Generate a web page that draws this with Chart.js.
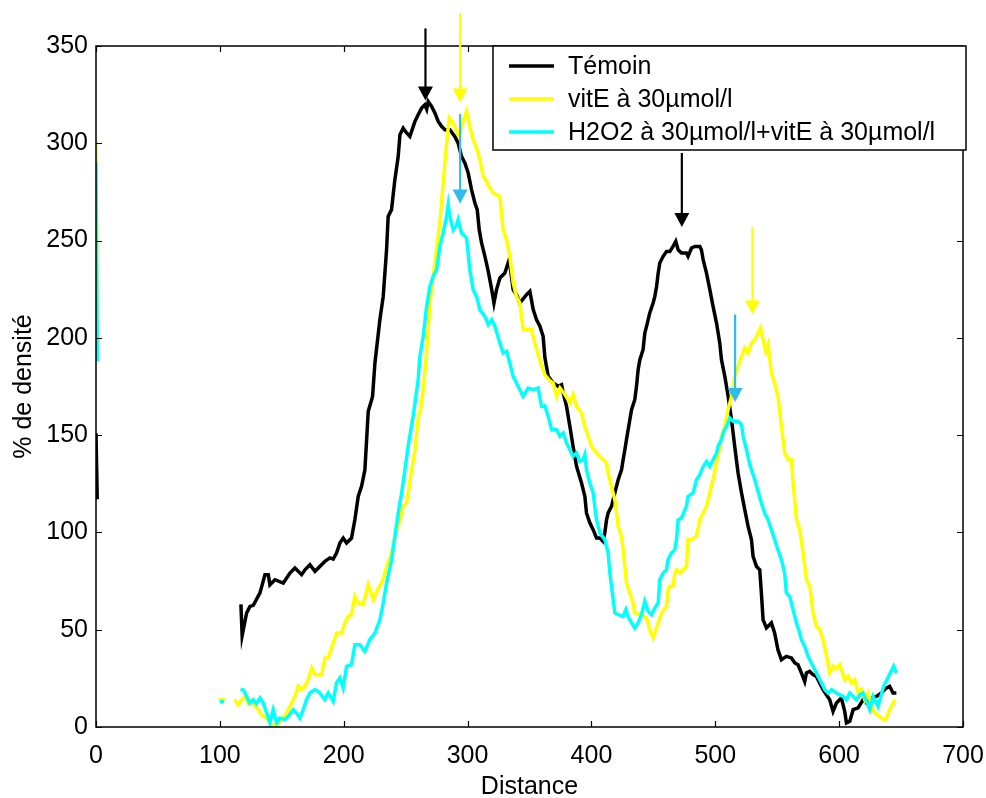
<!DOCTYPE html>
<html>
<head>
<meta charset="utf-8">
<script src="https://cdn.jsdelivr.net/npm/chart.js@4/dist/chart.umd.min.js"></script>
<style>
  html, body { margin: 0; padding: 0; background: #fff; }
  #plot { display: block; }
</style>
</head>
<body>
<canvas id="plot" width="986" height="798"></canvas>
<script>
// Densitometric profiles: [distance, % density]; a null density breaks the trace.
const temoin = [
  [0,151],[1,117],[50,null],
  [117,63],[118,47],[121.6,58.6],[124.3,62],[127,62.5],[132.4,68.9],[136.4,78.3],[139.1,78.3],[140.4,73.1],[144.5,75.7],[151.2,74],[156.6,79.1],[160.6,81.7],[166,78.3],[168.7,80.8],[172.7,83.4],[176.8,80],[184.8,85.1],[188.9,86.9],[191.5,86.3],[194.2,89.4],[196.9,94.6],[199.6,97.1],[202.3,94.6],[206.3,97.1],[209,106.5],[211.7,118.5],[214.4,123.7],[217.1,132.2],[219.8,162.2],[223.3,169.9],[225.2,187.1],[229.2,209.3],[231.9,221.3],[234.6,245.3],[235.9,262.4],[238.6,265.9],[241.3,281.3],[244,293.3],[245.4,304.4],[248,307.8],[250.8,305.3],[253.4,303.5],[254.8,306.1],[257.5,311.2],[260.1,314.7],[262.9,318.1],[265.5,319.8],[267,317.5],[268.2,321.5],[270.9,319],[273.6,315.6],[276.3,311.2],[279,308.7],[281.7,307],[285.7,307],[289.7,303.5],[292.4,300.1],[295.1,293.3],[297.8,289.9],[300.5,284.7],[303.2,276.2],[305.9,269.3],[307.8,265.9],[309.4,255.6],[311.3,248.8],[314,241.9],[316.7,234.2],[319.5,224.8],[321.3,217.9],[323.4,224.8],[326.1,230.8],[330.1,233.3],[333.6,240.2],[336.8,224.8],[339.5,222.2],[342.2,217.9],[347.6,222.2],[350.3,223.9],[353,214.5],[355.7,209.3],[358.4,206],[361,200.8],[362.4,190],[365.1,180.2],[369.1,176.8],[373.1,175.1],[375.9,175.9],[377.2,171.7],[379.9,164.8],[382.6,154.5],[385.2,144.2],[388,133.9],[392,125.4],[394.7,118.5],[396,110],[398.7,104.9],[401.4,101.4],[404.1,97.1],[406.8,97.1],[409.4,95.4],[410.8,99.7],[412.2,106.5],[413.5,110],[416.2,113.4],[418.9,120.3],[421.6,127.1],[424.3,132.2],[425.6,137.4],[427,142.5],[428.3,147.7],[431,157.9],[432.4,163.1],[435,168.2],[436.4,175.1],[437.7,183.6],[439.1,188.8],[441.7,193.9],[443.1,202.5],[444.5,205.9],[447.1,212.8],[449.8,217.9],[451.2,221.3],[452.6,226.4],[453.9,233.3],[455.2,238.5],[457.9,241.9],[460.6,244.4],[463.3,244.4],[465.9,247],[468.1,249.6],[470,245.3],[472.7,243.6],[476.7,243.6],[478,241.9],[480.8,246.2],[483.5,247],[487.5,247],[488.8,245.3],[490.2,240.2],[492.9,233.3],[495.6,224.8],[498.2,216.2],[501,207.6],[503.6,197.4],[505,188.8],[507.7,180.2],[510.4,169.9],[513.1,157.9],[515.7,144.2],[518.4,130.5],[521.2,120.3],[523.8,111.7],[526.5,103.1],[529.2,96.3],[530.5,87.7],[533.3,82.5],[535.9,80.8],[537.2,68.9],[538.6,55.1],[541.3,50.9],[545.3,53.5],[547.9,48.3],[550.6,39.7],[553.4,34.6],[557.4,36.3],[561.5,35.5],[564.2,32.9],[566.8,32],[569.5,27.8],[572.2,23.4],[573.6,27.8],[576.2,28.6],[578.9,26.9],[581.6,26],[587,19.2],[592.4,14],[595.1,8],[597.8,12.3],[601.8,14.9],[604.5,8],[605.9,2.1],[608.6,2.9],[611.3,8.9],[615.3,9.8],[619.3,14],[622,12.3],[626,14.9],[630.1,15.7],[634.1,17.5],[638.1,20],[640.8,20.9],[643.5,17.5],[646.2,17.5]
];

const vitE = [
  [0,301],[1,195],[50,null],
  [99,14],[104,14],[106,null],
  [112,14],[114.9,11.5],[117.6,14],[120.3,15.7],[123,12],[125.7,14],[128.4,10.6],[131.1,8.9],[134,6],[137.8,4.6],[141.8,1.2],[145.9,1.2],[149.9,3.8],[153.9,7.2],[156.6,10.6],[160.6,15.7],[163.3,20.9],[166,19.2],[168.7,20.9],[171.3,24.3],[174.1,30.3],[176.8,26.9],[182.2,26.9],[184.8,35.5],[187.5,35.5],[191.5,43.2],[194.2,48.3],[198.3,48.3],[200.9,53.5],[203.6,56.8],[206.3,57.7],[209,67.1],[211.7,63.7],[215.7,62.9],[219.8,73.1],[223.9,65.4],[226.6,69.7],[230.6,74],[233.3,79.1],[236,85.1],[238.7,89.4],[241.3,98],[245.4,106.5],[248,113.4],[250.8,115.1],[252,120.3],[254.8,132.2],[257.5,142],[260,158],[262.5,165],[264.2,173.4],[266.9,192.2],[269.6,217.9],[272.2,231.6],[275,245.3],[277.6,259],[280.3,279.6],[283.1,300.1],[285.2,313],[288.4,310.4],[291.2,306.1],[293,304],[296.4,311.2],[299.2,316.4],[301.8,308.7],[304.5,301.8],[307.3,297.6],[309.9,291.6],[312.6,283],[315.3,280.4],[318,277],[320.7,274.5],[326.1,272.7],[328.7,255.6],[331.5,250.4],[334.1,241.9],[336.8,228.2],[339.5,221.3],[342.2,217.9],[344.9,204.2],[351.6,204.2],[354.3,197.4],[358.4,188],[362.4,181],[366.4,178],[369.1,176.8],[371.9,169.9],[374.6,174.2],[378.7,170.8],[382.6,166.5],[385.2,170.8],[388,164.8],[392,161.4],[394.7,154.5],[397.4,149.4],[400.1,144.2],[404.1,140.8],[409.4,137.4],[412.2,135.7],[413.5,130.5],[416.2,123.7],[418.9,116.8],[420.3,110],[421.6,103.1],[424.3,98],[425.6,91.1],[427,82.5],[428.3,74],[431,68.9],[433.7,63.7],[435,58.6],[440.4,57.7],[444.5,56],[447.1,50],[449.8,45.7],[451.2,48.3],[453.9,53.5],[456.6,58.6],[460.6,62],[461.9,70.6],[463.3,72.3],[466,72.3],[467.3,79.1],[468.7,80.8],[471.4,79.1],[474,80.8],[476.7,82.5],[478,96.3],[480.8,96.3],[484.8,98],[487.5,106.5],[490.2,110],[492.9,113.4],[495.6,120.3],[498.2,127.1],[501,135.7],[503.6,144.2],[505,149.4],[507.7,154.5],[510.4,163.1],[513.1,169.9],[515.7,180.2],[518.4,185.3],[521.2,190.5],[523.8,194.8],[526.5,192.2],[529.2,197.4],[531.9,199.1],[534.6,202.5],[536.5,205.1],[538.6,199.1],[540.8,193.1],[542.6,196.5],[545.3,181.9],[547.9,176.8],[550.6,169.9],[553.4,154.5],[556,140.8],[558.8,137.4],[561.5,137.4],[562.8,125.4],[565.6,106.5],[568.2,101.4],[570.9,89.4],[573.6,75.7],[576.3,72.3],[578.9,58.6],[581.7,51.7],[584.3,50],[587,44.9],[590,36],[592.4,27.8],[595.1,31.2],[597.5,30],[600.5,32],[604.5,24.3],[607.2,26],[609.9,22.6],[612.6,24.3],[615.3,17.5],[618,19.2],[620.7,14],[623.4,17.5],[626.1,10.6],[628.8,7.2],[632.8,5.4],[635.5,3.8],[638.1,4.1],[639.6,7.2],[642.3,10.6],[645,14]
];

const h2o2VitE = [
  [0,290],[1,188],[50,null],
  [100,13],[103.5,13],[110,null],
  [116.8,19.5],[119,19],[121.6,15.7],[124.3,12.3],[127,14],[129.5,12],[132.4,14.9],[135.1,12.3],[137.8,7.2],[140.4,2.1],[143.1,8.9],[145.9,2.1],[148.5,4.6],[152.5,3.8],[155.2,5.4],[159.3,8.9],[162,7],[164.6,4.6],[167.3,8.9],[170,14],[172.7,17.5],[176.8,19.2],[180,18],[184.8,14],[187.5,17.5],[191.5,13.2],[194.2,22.6],[196.9,25.2],[199.6,20],[202.3,31.2],[206.3,32],[209,42.3],[213,42.3],[217.1,38.9],[221.1,44.9],[225.2,48.3],[229.2,55.1],[231.9,63.7],[234.6,74],[238.7,86],[241.3,98],[244,110],[246.7,120],[249.4,132],[252,144.2],[256.1,160],[260.1,178.5],[261.5,190.5],[264.2,200.8],[266.9,216.2],[269.6,226.4],[272.2,231.6],[275,235],[277.6,247],[280.3,253.9],[283.1,262.4],[284.4,268.4],[285.7,262.4],[288.4,255.6],[291.2,258.2],[292.4,260.7],[295.1,253.9],[299.2,251.3],[301.8,235],[304.5,224.8],[307.3,221.3],[309.9,214.5],[314,211],[316.7,206.8],[319.5,209.3],[322.1,205.9],[326.1,197.4],[328.7,192.2],[331.5,193.1],[334.1,187.1],[336.8,180.2],[340.8,175.1],[344.9,169.9],[348.9,174.2],[353,173.4],[357,174.2],[359.7,164.8],[362.4,165],[365.1,159.6],[367.9,152.8],[371.9,152.8],[374.6,149.4],[377.2,151.1],[379.9,146],[382.6,142.5],[385.2,139.1],[388,140.8],[390.6,136.5],[393.3,137.4],[394.7,140],[396,132.2],[398.7,125.4],[401.4,120.3],[402.7,113.4],[404.1,106.5],[406.8,99.7],[410.8,96.3],[413.5,89.4],[414.9,79.1],[416.2,72.3],[418.9,58.6],[421.6,57.7],[425.6,56.8],[427.8,60.3],[429.6,56.8],[432.4,53.5],[435,50.9],[437.7,53.5],[440.4,57.7],[443.1,64.6],[445.8,59.4],[448.5,57.7],[451.2,61.2],[453.9,63.7],[455.2,75.7],[457.9,79.1],[460.6,80.8],[461.9,86],[464.6,89.4],[467.3,91.1],[468.7,96.3],[470,106.5],[472.7,107.4],[476.7,113.4],[478,118.5],[482.1,120.3],[484.8,127.1],[487.5,129.7],[490.2,133.9],[492.9,136.5],[495.6,133.9],[498.2,137.4],[501,140.8],[502.2,144.2],[505,147.7],[506.3,151.1],[509.1,154.5],[511.7,158.8],[514.4,157.1],[518.4,157.1],[521.2,155.4],[522.5,149.4],[525.2,142.5],[527.8,135],[531.9,127.1],[535,120],[537.2,115.1],[539.9,110],[542.6,106.5],[545.3,101.4],[547.9,96.3],[550.6,91.1],[553.4,86],[556,79.1],[557.4,68.9],[560.1,67.1],[562.8,60.3],[565.5,53.5],[568.2,48.3],[569.5,44.9],[572.2,41.4],[574.9,36.3],[577.6,32.9],[580.3,29.4],[583,26],[585.7,22.6],[588.4,19.2],[591.1,17.5],[593.9,19.2],[597.8,17.5],[603.2,15.7],[605.9,14],[608.6,17.5],[613.9,14],[616.8,16.6],[619.3,17.5],[624.7,8.9],[627.4,15.7],[631.4,10.6],[635.9,20.9],[638.6,24.3],[641.3,27.8],[644,31.2],[646.2,27.8]
];

const seriesLabels = ['Témoin', 'vitE à 30µmol/l', 'H2O2 à 30µmol/l+vitE à 30µmol/l'];
const distanceTicks = [0, 100, 200, 300, 400, 500, 600, 700];
const densityTicks = [0, 50, 100, 150, 200, 250, 300, 350];

// Peak markers (distance, arrow start and tip in % density)
const peakDist = [266, 294, 294, 473, 530, 516];
const peakFrom = [359, 367, 315, 295, 257, 212];
const peakTo   = [322, 321, 269, 257, 212, 167];
const peakColours = ['#000000', '#ffff00', '#2ebcf0', '#000000', '#ffff00', '#2ebcf0'];

const FONT = "'Liberation Sans', Arial, Helvetica, sans-serif";
const lineColours = ['#000000', '#ffff00', '#00ffff'];

const toPoints = arr => arr.map(([x, y]) => ({x, y}));

const decorations = {
  id: 'decorations',
  afterDatasetsDraw(chart) {
    const {ctx, chartArea: a, scales: {x, y}} = chart;
    ctx.save();

    // axes box
    ctx.strokeStyle = '#000';
    ctx.lineWidth = 1.5;
    ctx.strokeRect(a.left, a.top, a.right - a.left, a.bottom - a.top);

    // inward tick marks on all four sides
    ctx.lineWidth = 1.2;
    const tl = 6;
    ctx.beginPath();
    distanceTicks.forEach(v => {
      const px = Math.round(x.getPixelForValue(v)) + 0.5;
      ctx.moveTo(px, a.bottom); ctx.lineTo(px, a.bottom - tl);
      ctx.moveTo(px, a.top); ctx.lineTo(px, a.top + tl);
    });
    densityTicks.forEach(v => {
      const py = Math.round(y.getPixelForValue(v)) + 0.5;
      ctx.moveTo(a.left, py); ctx.lineTo(a.left + tl, py);
      ctx.moveTo(a.right, py); ctx.lineTo(a.right - tl, py);
    });
    ctx.stroke();

    // peak arrows
    peakDist.forEach((d, i) => {
      const px = x.getPixelForValue(d);
      const y0 = y.getPixelForValue(peakFrom[i]);
      const y1 = y.getPixelForValue(peakTo[i]);
      const headLen = 14, headHalf = 7.5;
      ctx.strokeStyle = peakColours[i];
      ctx.fillStyle = peakColours[i];
      ctx.lineWidth = 2.2;
      ctx.beginPath();
      ctx.moveTo(px, y0);
      ctx.lineTo(px, y1 - headLen + 1);
      ctx.stroke();
      ctx.beginPath();
      ctx.moveTo(px - headHalf, y1 - headLen);
      ctx.lineTo(px + headHalf, y1 - headLen);
      ctx.lineTo(px, y1);
      ctx.closePath();
      ctx.fill();
    });

    // legend box in the upper right corner of the axes
    const lx = a.right + 3, ly = a.top;
    const lw = 473, lh = 104;
    ctx.fillStyle = '#fff';
    ctx.fillRect(lx - lw, ly, lw, lh);
    ctx.strokeStyle = '#000';
    ctx.lineWidth = 1.5;
    ctx.strokeRect(lx - lw, ly, lw, lh);
    ctx.font = '25px ' + FONT;
    ctx.textBaseline = 'middle';
    ctx.textAlign = 'left';
    chart.data.datasets.forEach((ds, i) => {
      const rowY = ly + 20 + i * 33;
      ctx.strokeStyle = ds.borderColor;
      ctx.lineWidth = 3.5;
      ctx.beginPath();
      ctx.moveTo(lx - lw + 16, rowY);
      ctx.lineTo(lx - lw + 61, rowY);
      ctx.stroke();
      ctx.fillStyle = '#000';
      ctx.fillText(ds.label, lx - lw + 75, rowY + 1);
    });

    ctx.restore();
  }
};

new Chart(document.getElementById('plot'), {
  type: 'line',
  data: {
    datasets: [temoin, vitE, h2o2VitE].map((arr, i) => ({
      label: seriesLabels[i],
      data: toPoints(arr),
      borderColor: lineColours[i],
      backgroundColor: lineColours[i],
      borderWidth: 3.5,
      pointRadius: 0,
      tension: 0,
      spanGaps: false,
      clip: 0,
      order: i === 0 ? 2 : (i === 1 ? 1 : 0)
    }))
  },
  options: {
    responsive: false,
    animation: false,
    devicePixelRatio: 1,
    layout: { padding: { top: 46, right: 23, left: 0, bottom: 0 } },
    plugins: { legend: { display: false }, tooltip: { enabled: false } },
    scales: {
      x: {
        type: 'linear',
        min: 0, max: 700,
        afterBuildTicks: s => { s.ticks = distanceTicks.map(v => ({value: v})); },
        afterFit: s => { s.height = 71; s.paddingLeft = 0; s.paddingRight = 0; },
        grid: { display: false, drawTicks: false },
        border: { display: false },
        ticks: { color: '#000', font: { family: FONT, size: 25 }, padding: 14, maxRotation: 0, autoSkip: false },
        title: { display: true, text: 'Distance', color: '#000', font: { family: FONT, size: 25, lineHeight: 1 }, padding: { top: 0, bottom: -2 } }
      },
      y: {
        type: 'linear',
        min: 0, max: 350,
        afterBuildTicks: s => { s.ticks = densityTicks.map(v => ({value: v})); },
        afterFit: s => { s.width = 96; s.paddingTop = 0; s.paddingBottom = 0; },
        grid: { display: false, drawTicks: false },
        border: { display: false },
        ticks: { color: '#000', font: { family: FONT, size: 25 }, padding: 8, autoSkip: false },
        title: { display: true, text: '% de densité', color: '#000', font: { family: FONT, size: 25, lineHeight: 1.2 }, padding: { top: 9, bottom: 0 } }
      }
    }
  },
  plugins: [decorations]
});
</script>
</body>
</html>
